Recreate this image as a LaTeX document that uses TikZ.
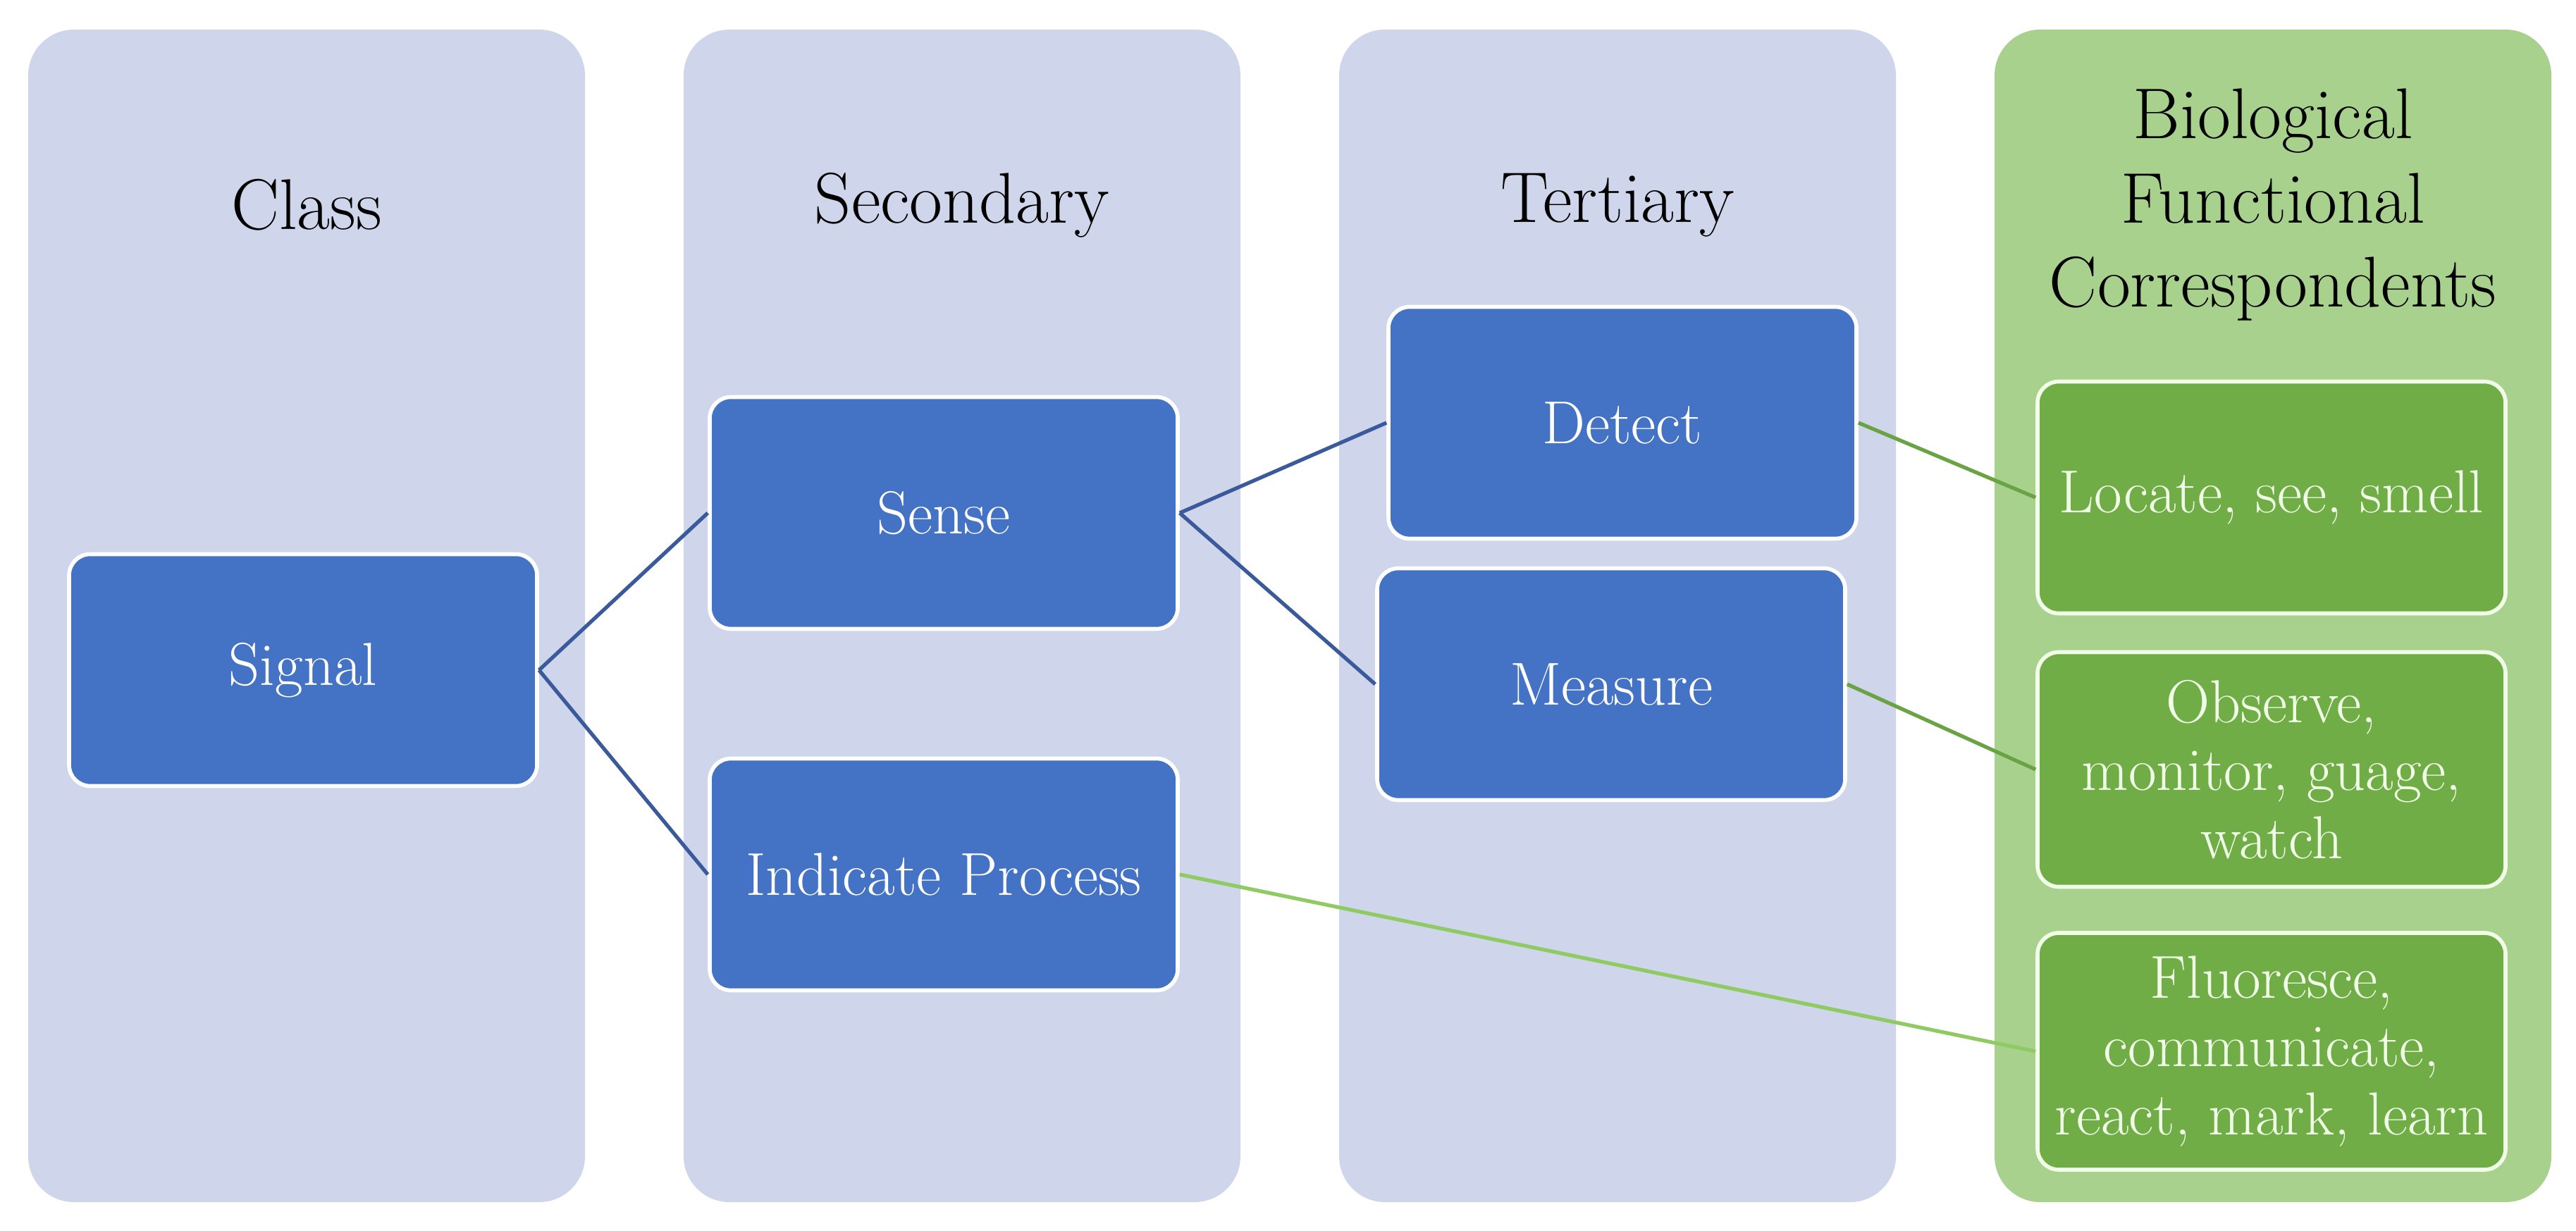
\documentclass[tikz,border=0pt]{standalone}
\usetikzlibrary{positioning}
\definecolor{colfill}{HTML}{CFD5EA}
\definecolor{biofill}{HTML}{A9D18E}
\definecolor{boxblue}{HTML}{4472C4}
\definecolor{boxgreen}{HTML}{70AD47}
\definecolor{linkblue}{HTML}{3A5A9B}
\definecolor{linkgreen}{HTML}{6AA343}
\definecolor{linklight}{HTML}{8FCB62}
\definecolor{greentext}{HTML}{F2FFE8}

\tikzset{
	column/.style={fill=#1, draw=none, rounded corners=0.65cm, inner sep=0pt,
		minimum width=7.9cm, minimum height=16.64cm},
	header/.style={font=\fontsize{29}{34}\selectfont, align=center, text=black},
	bluebox/.style={fill=boxblue, draw=white, line width=1.6pt, rounded corners=0.3cm,
		minimum width=6.64cm, minimum height=3.29cm, text=white, align=center,
		font=\fontsize{24.5}{27.5}\selectfont},
	greenbox/.style={bluebox, fill=boxgreen, draw=greentext, text=greentext},
	link/.style={draw=#1, line width=1.5pt}
}

\begin{document}
\begin{tikzpicture}
			%%%%% START %%%%%
			
			\fill[white] (0, 0) rectangle (36.55, 17.46);
			\useasboundingbox (0, 0) rectangle (36.55, 17.46);
			
			% columns
			\node[column=colfill] (classcol) at (4.35, 8.72) {};
			\node[column=colfill] (secondcol) at (13.65, 8.72) {};
			\node[column=colfill] (thirdcol) at (22.95, 8.72) {};
			\node[column=biofill] (biocol) at (32.25, 8.72) {};
			
			\node[header] (classhead) at (4.35, 14.55) {Class};
			\node[header] (secondhead) at (13.65, 14.55) {Secondary};
			\node[header] (thirdhead) at (22.95, 14.55) {Tertiary};
			\node[header] (biohead) at (32.25, 14.55) {Biological\\Functional\\Correspondents};
			
			% blue boxes
			\node[bluebox] (signal) at (4.30, 7.95) {Signal};
			\node[bluebox] (sense) at (13.39, 10.18) {Sense};
			\node[bluebox] (indicate) at (13.39, 5.05) {Indicate Process};
			\node[bluebox] (detect) at (23.02, 11.46) {Detect};
			\node[bluebox] (measure) at (22.86, 7.75) {Measure};
			
			% green boxes
			\node[greenbox] (locate) at (32.23, 10.40) {Locate, see, smell};
			\node[greenbox, minimum height=3.33cm] (observe) at (32.23, 6.54) {Observe,\\monitor, guage,\\watch};
			\node[greenbox, minimum height=3.36cm] (fluoresce) at (32.23, 2.54) {Fluoresce,\\communicate,\\react, mark, learn};
			
			% links
			\draw[link=linkblue] (signal.east) -- (sense.west);
			\draw[link=linkblue] (signal.east) -- (indicate.west);
			\draw[link=linkblue] (sense.east) -- (detect.west);
			\draw[link=linkblue] (sense.east) -- (measure.west);
			\draw[link=linkgreen] (detect.east) -- (locate.west);
			\draw[link=linkgreen] (measure.east) -- (observe.west);
			\draw[link=linklight] (indicate.east) -- (fluoresce.west);
			
			%%%%% END %%%%%
\end{tikzpicture}
\end{document}
